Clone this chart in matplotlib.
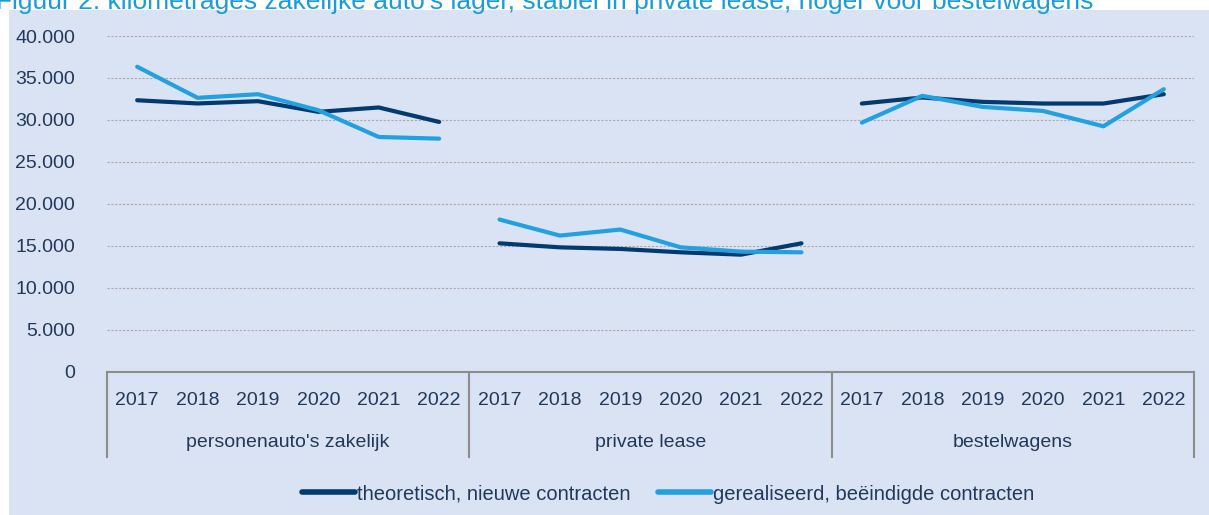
import matplotlib.pyplot as plt
from matplotlib.patches import Rectangle
from matplotlib.ticker import FuncFormatter
import matplotlib.transforms as mtransforms

plt.rcParams['font.family'] = ['Liberation Sans', 'DejaVu Sans']

# data
groups = ["personenauto's zakelijk", 'private lease', 'bestelwagens']
years = ['2017', '2018', '2019', '2020', '2021', '2022']
theoretisch = [
    [32350, 31970, 32240, 30970, 31490, 29770],
    [15320, 14840, 14650, 14250, 13970, 15320],
    [31960, 32680, 32160, 31960, 31960, 33070],
]
gerealiseerd = [
    [36340, 32640, 33070, 31160, 27980, 27780],
    [18150, 16240, 16960, 14840, 14330, 14250],
    [29690, 32880, 31560, 31080, 29250, 33670],
]
series_labels = ['theoretisch, nieuwe contracten', 'gerealiseerd, beëindigde contracten']
yticks = [0, 5000, 10000, 15000, 20000, 25000, 30000, 35000, 40000]

DARK = '#003A6E'
LIGHT = '#22A0E0'
BG = '#DAE3F3'
TXT = '#22385A'
TITLE_COL = '#1E9AD6'

W, H = 1209, 515
fig = plt.figure(figsize=(W / 100, H / 100), dpi=100)
fig.patch.set_facecolor('white')
bg = Rectangle((9 / W, 0), 1, 1 - 10 / H, transform=fig.transFigure,
               facecolor=BG, edgecolor='none', zorder=-10)
fig.patches.append(bg)

# title, partly cut by the top edge like in the source image
fig.text(-0.003, 1 - 2 / H, 'Figuur 2: kilometrages zakelijke auto\'s lager, stabiel in private lease, '
         'hoger voor bestelwagens', color=TITLE_COL, fontsize=19, ha='left', va='center')

left, right = 107 / W, 1194 / W
bottom, top = 1 - 372 / H, 1 - 36 / H
ax = fig.add_axes([left, bottom, right - left, top - bottom])
ax.set_facecolor('none')

n = len(years)
for g in range(len(groups)):
    xs = [g * n + j for j in range(n)]
    ax.plot(xs, theoretisch[g], color=DARK, lw=3.0, solid_capstyle='round', zorder=3,
            label=series_labels[0] if g == 0 else None)
    ax.plot(xs, gerealiseerd[g], color=LIGHT, lw=3.0, solid_capstyle='round', zorder=3,
            label=series_labels[1] if g == 0 else None)

ax.set_xlim(-0.5, len(groups) * n - 0.5)
ax.set_ylim(0, 40000)
ax.set_yticks(yticks)
ax.yaxis.set_major_formatter(FuncFormatter(lambda v, p: f'{int(v):,}'.replace(',', '.')))
ax.tick_params(axis='y', length=0, pad=23, labelsize=14, labelcolor=TXT)
ax.set_xticks([])
ax.grid(axis='y', color='#A9A9A9', linestyle=(0, (2, 1.5)), linewidth=0.8)
ax.set_axisbelow(True)
for s in ['top', 'right', 'left']:
    ax.spines[s].set_visible(False)
ax.spines['bottom'].set_color('#8C8C8C')
ax.spines['bottom'].set_linewidth(1.5)

# category axis with group labels
ax_h = 372 - 36
trans = mtransforms.blended_transform_factory(ax.transData, ax.transAxes)
for g, name in enumerate(groups):
    for j, yr in enumerate(years):
        ax.text(g * n + j, -29 / ax_h, yr, transform=trans, ha='center', va='center',
                fontsize=14, color=TXT)
    ax.text(g * n + (n - 1) / 2, -71 / ax_h, name, transform=trans, ha='center',
            va='center', fontsize=14, color=TXT)
for k in range(len(groups) + 1):
    xk = k * n - 0.5
    ax.plot([xk, xk], [0, -85 / ax_h], transform=trans, color='#8C8C8C', lw=1.5,
            clip_on=False)

leg = fig.legend(loc='center', bbox_to_anchor=(668 / W, 1 - 494 / H), ncol=2, frameon=False,
                 fontsize=14.5, handlelength=2.6, handletextpad=0.1, columnspacing=1.4,
                 labelcolor=TXT)
for line in leg.get_lines():
    line.set_linewidth(4)

fig.savefig('out.png', dpi=100, facecolor=fig.get_facecolor())
